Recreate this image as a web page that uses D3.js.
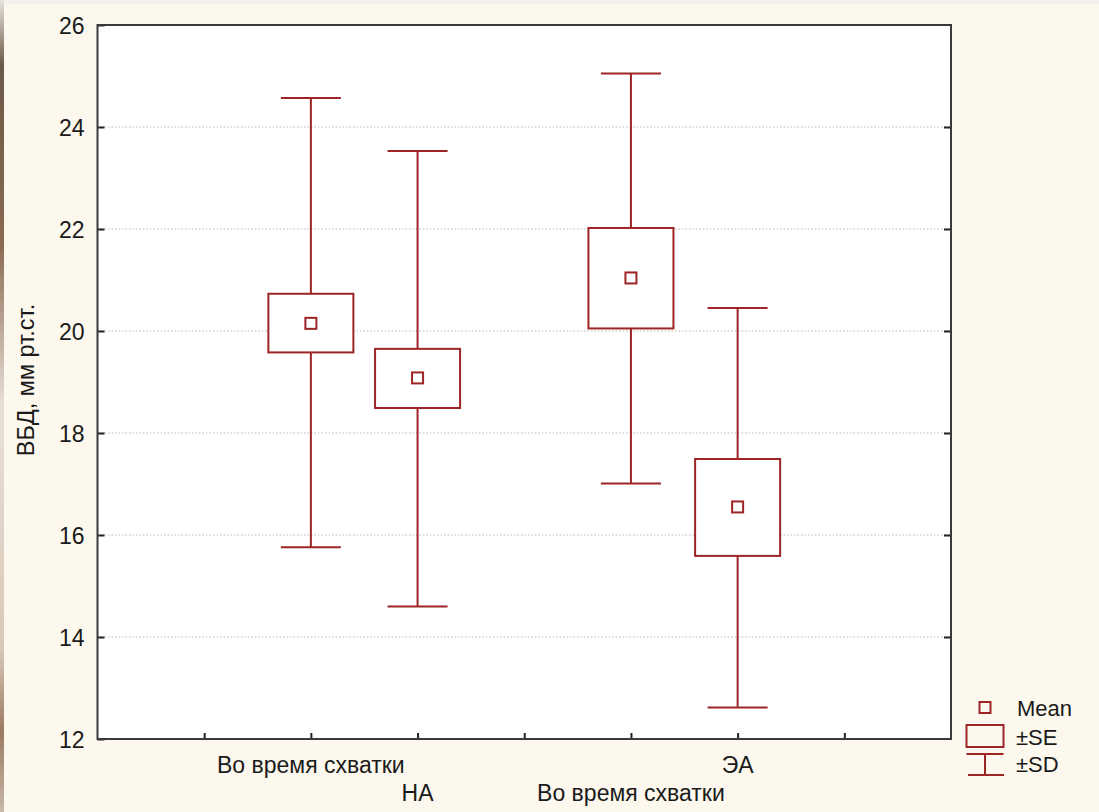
<!DOCTYPE html>
<html>
<head>
<meta charset="utf-8">
<script src="https://cdn.jsdelivr.net/npm/d3@7"></script>
<style>
  html, body { margin: 0; padding: 0; background: #fdf8ee; }
  svg { display: block; }
  text { font-family: "Liberation Sans", Arial, sans-serif; fill: #1a1a1a; }
</style>
</head>
<body>
<svg id="chart" width="1099" height="812"></svg>
<script>
// ---- data ----
const positions = [2, 3, 5, 6];               // slot of each group on the categorical axis
const means     = [20.15, 19.08, 21.04, 16.55];
const seLow     = [19.58, 18.49, 20.05, 15.59];
const seHigh    = [20.73, 19.65, 22.02, 17.49];
const sdLow     = [15.76, 14.60, 17.01, 12.62];
const sdHigh    = [24.57, 23.53, 25.05, 20.45];
const yTicks    = [12, 14, 16, 18, 20, 22, 24, 26];
const xTickSlots = [1, 2, 3, 4, 5, 6, 7];
const xLabelsRow1 = [{slot: 2, text: "Во время схватки"}, {slot: 6, text: "ЭА"}];
const xLabelsRow2 = [{slot: 3, text: "НА"}, {slot: 5, text: "Во время схватки"}];
const legendItems = ["Mean", "±SE", "±SD"];
const yTitle = "ВБД, мм рт.ст.";

// ---- layout ----
const W = 1099, H = 812;
const plot = {left: 97.5, right: 951, top: 25, bottom: 739};
const red = "#9e2426";

const svg = d3.select("#chart");

// background + left edge artifact
const defs = svg.append("defs");
const lg = defs.append("linearGradient").attr("id", "edge").attr("x1", 0).attr("x2", 0).attr("y1", 0).attr("y2", 1);
[[0, "#e9e4dc"], [0.08, "#6b5a48"], [0.3, "#8a6a50"], [0.5, "#e8e0d8"], [0.8, "#d8c8b8"], [0.9, "#9a7a60"], [1, "#c8b8a8"]]
  .forEach(([o, c]) => lg.append("stop").attr("offset", o).attr("stop-color", c));
svg.append("rect").attr("width", W).attr("height", H).attr("fill", "#fdf8ee");
svg.append("rect").attr("x", 0).attr("y", 0).attr("width", W).attr("height", 4).attr("fill", "#f4f1ec");
svg.append("rect").attr("x", 0).attr("y", 0).attr("width", 4).attr("height", H).attr("fill", "url(#edge)");

const x = d3.scaleLinear().domain([0, 8]).range([plot.left, plot.right]);
const y = d3.scaleLinear().domain([12, 26]).range([plot.bottom, plot.top]);

// plot background
svg.append("rect").attr("x", plot.left).attr("y", plot.top)
  .attr("width", plot.right - plot.left).attr("height", plot.bottom - plot.top)
  .attr("fill", "#ffffff");

// grid lines
svg.append("g").selectAll("line").data(yTicks.filter(v => v > 12 && v < 26)).join("line")
  .attr("x1", plot.left).attr("x2", plot.right)
  .attr("y1", d => y(d)).attr("y2", d => y(d))
  .attr("stroke", "#b8b8b8").attr("stroke-width", 1.2).attr("stroke-dasharray", "1.5,2");

// y axis (left) with inward ticks
const yAxisL = d3.axisLeft(y).tickValues(yTicks).tickSize(-7).tickPadding(14).tickFormat(d3.format("d"));
const gL = svg.append("g").attr("transform", `translate(${plot.left},0)`).call(yAxisL);
gL.select(".domain").remove();
gL.selectAll(".tick line").attr("stroke", "#222").attr("stroke-width", 2);
gL.selectAll(".tick text").attr("font-size", 23).attr("dy", "0.36em").attr("x", -13);

// right inward ticks
const yAxisR = d3.axisRight(y).tickValues(yTicks.filter(v => v > 12 && v < 26)).tickSize(-7).tickFormat("");
const gR = svg.append("g").attr("transform", `translate(${plot.right},0)`).call(yAxisR);
gR.select(".domain").remove();
gR.selectAll(".tick line").attr("stroke", "#222").attr("stroke-width", 2);

// x axis inward ticks
const xAxis = d3.axisBottom(x).tickValues(xTickSlots).tickSize(-6).tickFormat("");
const gX = svg.append("g").attr("transform", `translate(0,${plot.bottom})`).call(xAxis);
gX.select(".domain").remove();
gX.selectAll(".tick line").attr("stroke", "#222").attr("stroke-width", 2);

// frame
svg.append("rect").attr("x", plot.left).attr("y", plot.top)
  .attr("width", plot.right - plot.left).attr("height", plot.bottom - plot.top)
  .attr("fill", "none").attr("stroke", "#3a3a3a").attr("stroke-width", 2);

// x labels
const fs = 23;
svg.append("g").selectAll("text").data(xLabelsRow1).join("text")
  .attr("x", d => x(d.slot)).attr("y", 773).attr("text-anchor", "middle")
  .attr("font-size", fs).text(d => d.text);
svg.append("g").selectAll("text").data(xLabelsRow2).join("text")
  .attr("x", d => x(d.slot)).attr("y", 801).attr("text-anchor", "middle")
  .attr("font-size", fs).text(d => d.text);

// y title
svg.append("text").attr("transform", `translate(34,${(plot.top + plot.bottom) / 2 - 2}) rotate(-90)`)
  .attr("text-anchor", "middle").attr("font-size", 23.5).text(yTitle);

// boxes
const boxW = 85, capW = 60, mk = 11;
const groups = svg.append("g").selectAll("g").data(positions.map((p, i) => ({
  p, mean: means[i], seL: seLow[i], seH: seHigh[i], sdL: sdLow[i], sdH: sdHigh[i]
}))).join("g");

groups.append("line").attr("x1", d => x(d.p)).attr("x2", d => x(d.p))
  .attr("y1", d => y(d.sdH)).attr("y2", d => y(d.seH))
  .attr("stroke", red).attr("stroke-width", 2);
groups.append("line").attr("x1", d => x(d.p)).attr("x2", d => x(d.p))
  .attr("y1", d => y(d.seL)).attr("y2", d => y(d.sdL))
  .attr("stroke", red).attr("stroke-width", 2);
groups.append("line").attr("x1", d => x(d.p) - capW / 2).attr("x2", d => x(d.p) + capW / 2)
  .attr("y1", d => y(d.sdH)).attr("y2", d => y(d.sdH))
  .attr("stroke", red).attr("stroke-width", 2);
groups.append("line").attr("x1", d => x(d.p) - capW / 2).attr("x2", d => x(d.p) + capW / 2)
  .attr("y1", d => y(d.sdL)).attr("y2", d => y(d.sdL))
  .attr("stroke", red).attr("stroke-width", 2);
groups.append("rect").attr("x", d => x(d.p) - boxW / 2).attr("y", d => y(d.seH))
  .attr("width", boxW).attr("height", d => y(d.seL) - y(d.seH))
  .attr("fill", "#ffffff").attr("stroke", red).attr("stroke-width", 2);
groups.append("rect").attr("x", d => x(d.p) - mk / 2).attr("y", d => y(d.mean) - mk / 2)
  .attr("width", mk).attr("height", mk)
  .attr("fill", "#ffffff").attr("stroke", red).attr("stroke-width", 2);

// legend
const lx = 985;
const leg = svg.append("g");
leg.append("rect").attr("x", lx - 5.5).attr("y", 702).attr("width", 11).attr("height", 11)
  .attr("fill", "none").attr("stroke", red).attr("stroke-width", 2);
leg.append("rect").attr("x", lx - 18.5).attr("y", 725).attr("width", 37).attr("height", 22)
  .attr("fill", "none").attr("stroke", red).attr("stroke-width", 2);
leg.append("line").attr("x1", lx - 18.5).attr("x2", lx + 18.5).attr("y1", 754).attr("y2", 754)
  .attr("stroke", red).attr("stroke-width", 2);
leg.append("line").attr("x1", lx - 17).attr("x2", lx + 19).attr("y1", 775).attr("y2", 775)
  .attr("stroke", red).attr("stroke-width", 2);
leg.append("line").attr("x1", lx).attr("x2", lx).attr("y1", 754).attr("y2", 775)
  .attr("stroke", red).attr("stroke-width", 2);
leg.selectAll("text.lt").data(legendItems).join("text").attr("class", "lt")
  .attr("x", (d, i) => i === 0 ? 1017 : 1016)
  .attr("y", (d, i) => [716, 745, 772][i])
  .attr("font-size", 22).text(d => d);
</script>
</body>
</html>
